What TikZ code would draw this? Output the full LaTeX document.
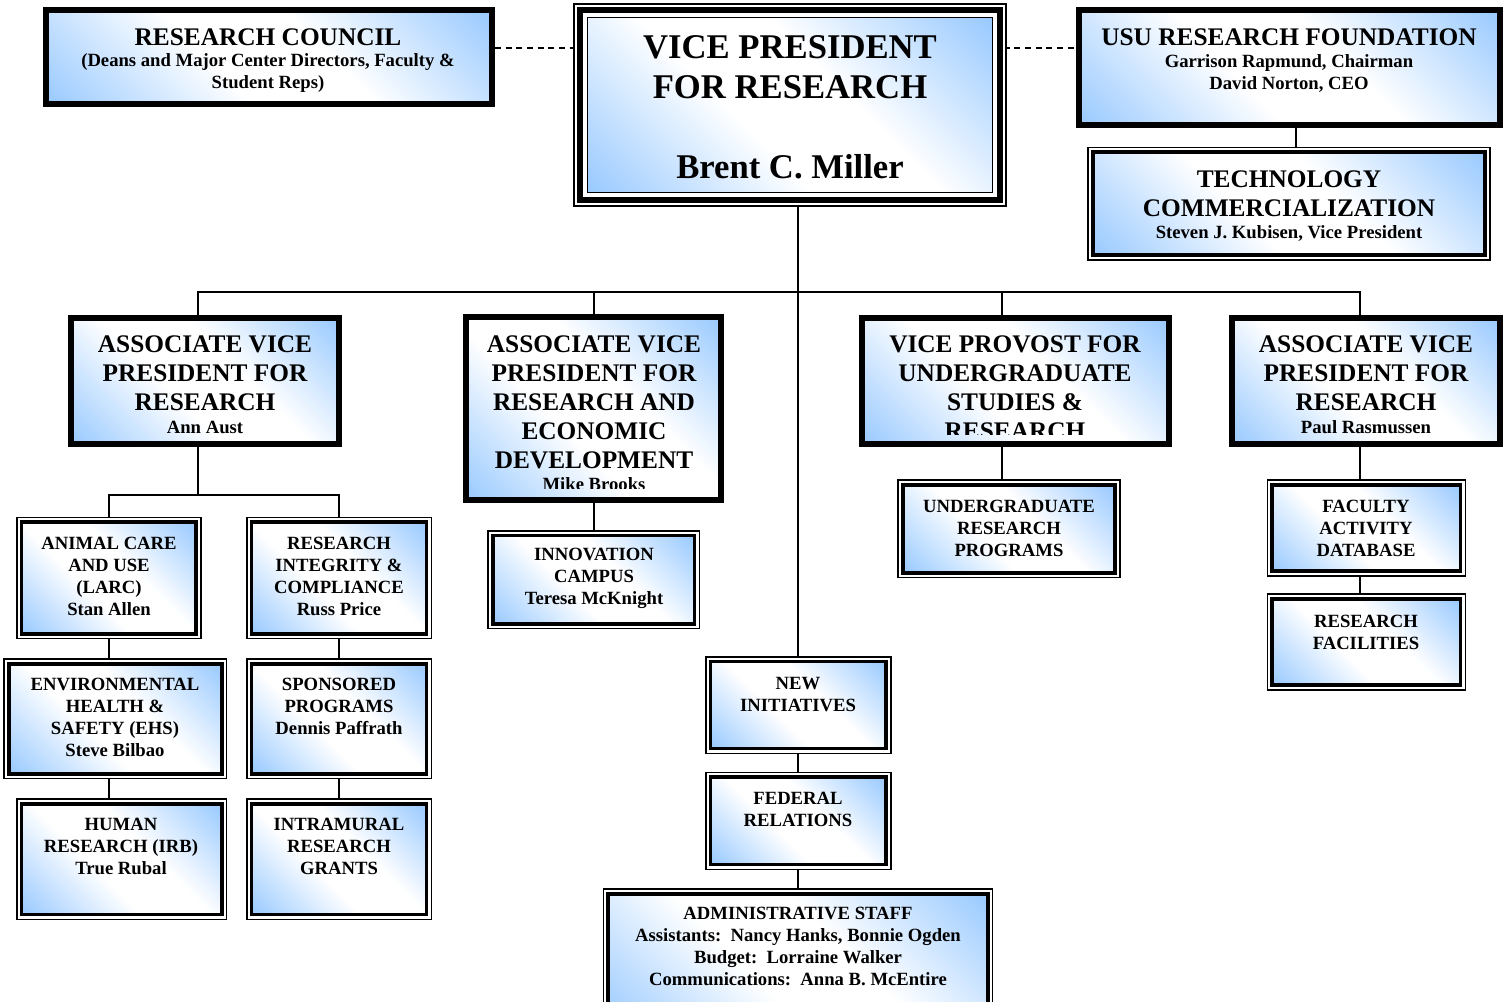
\documentclass[tikz,border=0pt]{standalone}
\usepackage{fontspec}
\setmainfont{Liberation Serif}
\usetikzlibrary{fit,backgrounds}
\definecolor{gblue}{RGB}{150,200,255}
\pgfdeclareverticalshading{boxgrad}{100bp}{color(0bp)=(gblue); color(14bp)=(gblue); color(42bp)=(white); color(58bp)=(white); color(86bp)=(gblue); color(100bp)=(gblue)}
\begin{document}
\begin{tikzpicture}[x=0.75pt,y=-0.75pt,
  gradfill/.style={shade, shading=boxgrad, shading angle=-45},
  thickbox/.style={inner sep=0pt, draw=black, line width=4.5pt, gradfill},
  dblbox/.style={inner sep=0pt,
    preaction={draw=black, line width=8.25pt},
    preaction={draw=white, line width=6pt},
    draw=black, line width=2.6pt, gradfill},
  vpbox/.style={inner sep=0pt,
    preaction={draw=black, line width=21.4pt},
    preaction={draw=white, line width=19.1pt},
    preaction={draw=black, line width=16.1pt},
    preaction={draw=white, line width=7.1pt},
    draw=black, line width=1.1pt, gradfill},
  htxt/.style={font=\bfseries\fontsize{19}{21.75}\selectfont, align=center, inner sep=0pt},
  stxt/.style={font=\bfseries\fontsize{14}{16.5}\selectfont, align=center, inner sep=0pt},
  vptxt/.style={font=\bfseries\fontsize{26}{30}\selectfont, align=center, inner sep=0pt},
  conn/.style={draw=black, line width=1.5pt},
  dconn/.style={conn, dash pattern=on 4.5pt off 3.5pt}]
\useasboundingbox (0,0) rectangle (1509,1002);

% ---- boxes ----
\node[thickbox, fit={(45.5,10.5) (492,104)}] (rc) {};
\node[vpbox, fit={(587.75,17.75) (992.25,192.25)}] (vp) {};
\node[thickbox, fit={(1079,10.5) (1500,125)}] (usu) {};
\node[dblbox, fit={(1092.8,152.2) (1485.2,255.2)}] (tech) {};

\node[thickbox, fit={(71,318) (339,444)}] (avp1) {};
\node[thickbox, fit={(466.3,317) (721,499.7)}] (avp2) {};
\node[thickbox, fit={(862.3,318) (1168.7,444.3)}] (vpu) {};
\node[thickbox, fit={(1232.3,318) (1499.7,443.7)}] (avp3) {};

\node[dblbox, fit={(21.5,522.2) (196.2,633.8)}] (ac) {};
\node[dblbox, fit={(251.5,522.2) (426.5,633.8)}] (ri) {};
\node[dblbox, fit={(8.8,663.8) (221.8,773.8)}] (ehs) {};
\node[dblbox, fit={(251.5,663.8) (426.5,773.8)}] (sp) {};
\node[dblbox, fit={(21.5,803.8) (221.8,914.5)}] (hr) {};
\node[dblbox, fit={(251.5,803.8) (426.5,914.5)}] (irg) {};

\node[dblbox, fit={(492.8,535.5) (694.5,623.8)}] (innov) {};
\node[dblbox, fit={(902.8,484.8) (1115.2,572.8)}] (ugr) {};
\node[dblbox, fit={(1272.2,484.8) (1460.5,571.2)}] (fad) {};
\node[dblbox, fit={(1272.2,598.8) (1460.5,685.2)}] (rf) {};
\node[dblbox, fit={(710.5,661.5) (886.2,748.5)}] (ni) {};
\node[dblbox, fit={(710.5,777.2) (886.2,864.5)}] (fr) {};
\node[dblbox, fit={(608.2,893.8) (987.8,1030)}] (adm) {};

% ---- texts ----
\node[htxt] (rc-h) at (268,37) {RESEARCH COUNCIL};
\node[stxt] (rc-s) at (268,73) {(Deans and Major Center Directors, Faculty \&\\Student Reps)};
\node[vptxt] (vp-h) at (790,67) {VICE PRESIDENT\\FOR RESEARCH};
\node[vptxt] (vp-n) at (790,167) {Brent C. Miller};
\node[htxt] (usu-h) at (1289,37) {USU RESEARCH FOUNDATION};
\node[stxt] (usu-s) at (1289,73) {Garrison Rapmund, Chairman\\David Norton, CEO};
\node[htxt] (tech-h) at (1289,193.5) {TECHNOLOGY\\COMMERCIALIZATION};
\node[stxt] (tech-s) at (1289,233) {Steven J. Kubisen, Vice President};

\node[htxt] (avp1-h) at (205,373) {ASSOCIATE VICE\\PRESIDENT FOR\\RESEARCH};
\node[stxt] (avp1-s) at (205,427) {Ann Aust};
\begin{scope}
  \coordinate (clipA) at (0,488);
  \clip (avp2.north west) rectangle (avp2.east |- clipA);
  \node[htxt] (avp2-h) at (594,402) {ASSOCIATE VICE\\PRESIDENT FOR\\RESEARCH AND\\ECONOMIC\\DEVELOPMENT};
  \node[stxt] (avp2-s) at (594,484) {Mike Brooks};
\end{scope}
\begin{scope}
  \coordinate (clipB) at (0,434);
  \clip (vpu.north west) rectangle (vpu.east |- clipB);
  \node[htxt] (vpu-h) at (1015,387.5) {VICE PROVOST FOR\\UNDERGRADUATE\\STUDIES \&\\RESEARCH};
\end{scope}
\node[htxt] (avp3-h) at (1366,373) {ASSOCIATE VICE\\PRESIDENT FOR\\RESEARCH};
\node[stxt] (avp3-s) at (1366,427) {Paul Rasmussen};

\node[stxt] (ac-t) at (109,576) {ANIMAL CARE\\AND USE\\(LARC)\\Stan Allen};
\node[stxt] (ri-t) at (339,576) {RESEARCH\\INTEGRITY \&\\COMPLIANCE\\Russ Price};
\node[stxt] (ehs-t) at (115,717.5) {ENVIRONMENTAL\\HEALTH \&\\SAFETY (EHS)\\Steve Bilbao};
\node[stxt] (sp-t) at (339,706.5) {SPONSORED\\PROGRAMS\\Dennis Paffrath};
\node[stxt] (hr-t) at (121,846.5) {HUMAN\\RESEARCH (IRB)\\True Rubal};
\node[stxt] (irg-t) at (339,846.5) {INTRAMURAL\\RESEARCH\\GRANTS};
\node[stxt] (innov-t) at (594,578) {INNOVATION\\CAMPUS\\Teresa McKnight};
\node[stxt] (ugr-t) at (1009,528) {UNDERGRADUATE\\RESEARCH\\PROGRAMS};
\node[stxt] (fad-t) at (1366,528) {FACULTY\\ACTIVITY\\DATABASE};
\node[stxt] (rf-t) at (1366,632) {RESEARCH\\FACILITIES};
\node[stxt] (ni-t) at (798,695) {NEW\\INITIATIVES};
\node[stxt] (fr-t) at (798,809) {FEDERAL\\RELATIONS};
\node[stxt] (adm-t) at (798,946.5) {ADMINISTRATIVE STAFF\\Assistants:~~Nancy Hanks, Bonnie Ogden\\Budget:~~Lorraine Walker\\Communications:~~Anna B. McEntire};

% ---- connectors ----
\coordinate (dy) at (0,48);
\coordinate (d1) at (198,292);
\coordinate (d3) at (1002,292);
\coordinate (d4) at (1360,292);
\coordinate (bar2) at (0,495);
\coordinate (tx) at (1296,0);
\begin{pgfonlayer}{background}
  \fill[white] (0,0) rectangle (1509,1002);
  \draw[dconn] (rc.east |- dy) -- (vp.west |- dy);
  \draw[dconn] (vp.east |- dy) -- (usu.west |- dy);
  \draw[conn] (tx |- usu.south) -- (tx |- tech.north);
  \draw[conn] (ni.north) -- (ni.north |- vp.south);
  \draw[conn] (d1 |- avp1.north) -- (d1) -- (d4) -- (d4 |- avp3.north);
  \draw[conn] (avp2.north |- d1) -- (avp2.north);
  \draw[conn] (d3) -- (d3 |- vpu.north);
  \draw[conn] (d1 |- avp1.south) -- (d1 |- bar2);
  \draw[conn] (ac.north) -- (ac.north |- bar2) -- (ri.north |- bar2) -- (ri.north);
  \draw[conn] (ac.south) -- (ac.south |- ehs.north);
  \draw[conn] (ac.south |- ehs.south) -- (ac.south |- hr.north);
  \draw[conn] (ri.south) -- (ri.south |- sp.north);
  \draw[conn] (ri.south |- sp.south) -- (ri.south |- irg.north);
  \draw[conn] (innov.north) -- (innov.north |- avp2.south);
  \draw[conn] (d3 |- vpu.south) -- (d3 |- ugr.north);
  \draw[conn] (d4 |- avp3.south) -- (d4 |- fad.north);
  \draw[conn] (d4 |- fad.south) -- (d4 |- rf.north);
  \draw[conn] (ni.south) -- (ni.south |- fr.north);
  \draw[conn] (ni.south |- fr.south) -- (ni.south |- adm.north);
\end{pgfonlayer}
\end{tikzpicture}
\end{document}
